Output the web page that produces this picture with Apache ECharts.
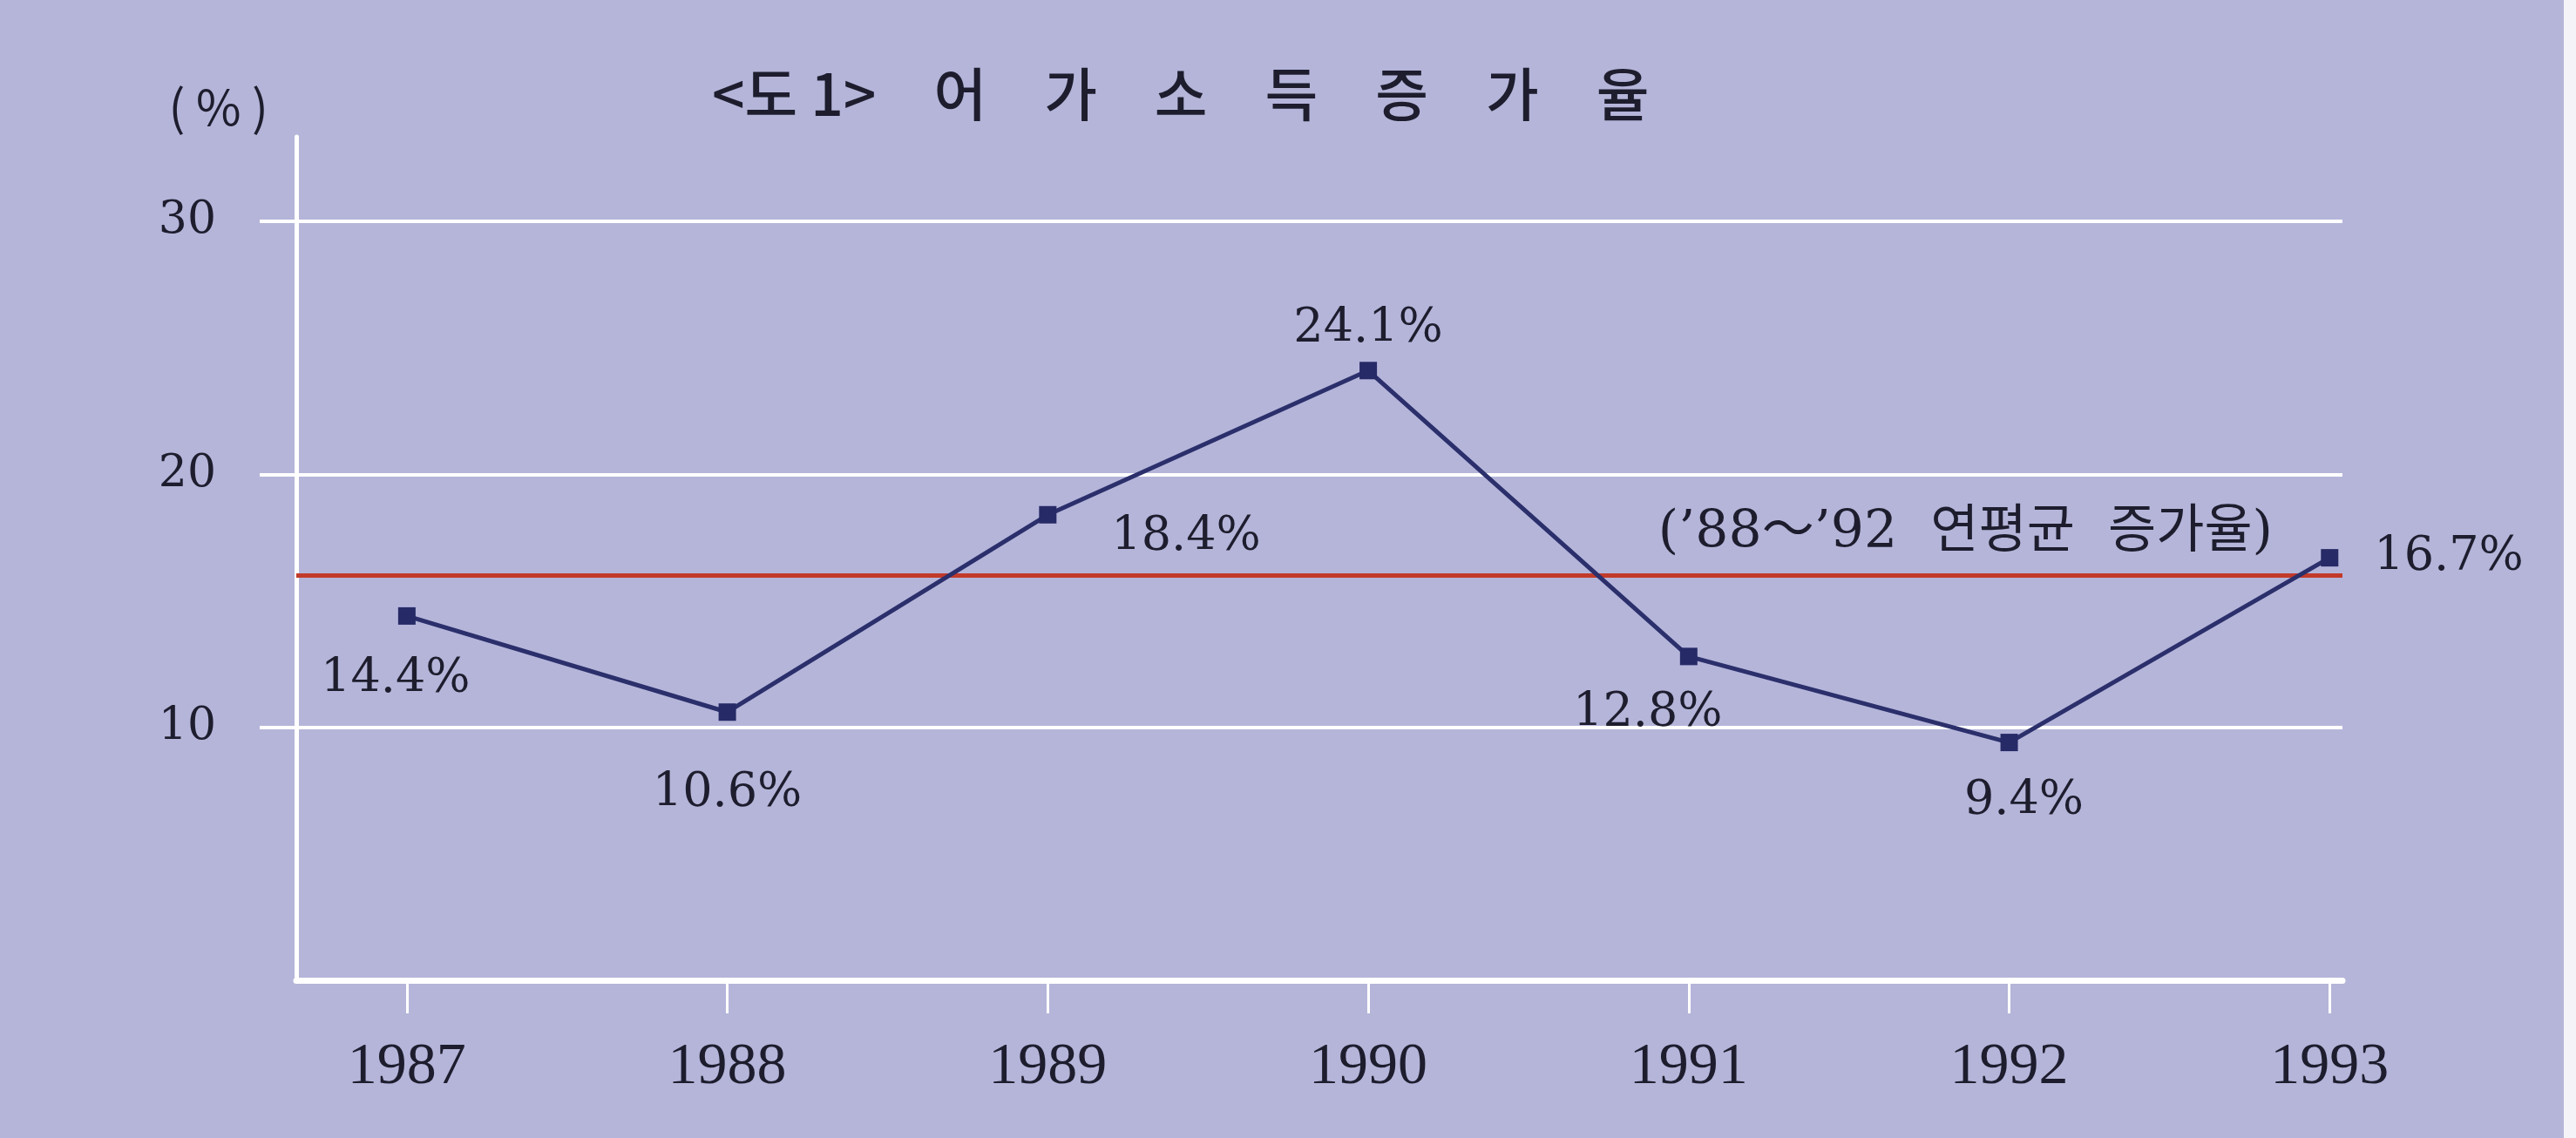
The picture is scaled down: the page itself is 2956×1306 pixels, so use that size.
<!DOCTYPE html>
<html>
<head>
<meta charset="utf-8">
<script src="https://cdn.jsdelivr.net/npm/echarts@6/dist/echarts.min.js"></script>
<style>
  html, body { margin: 0; padding: 0; background: #b5b5da; }
  #chart { width: 2956px; height: 1306px; }
</style>
</head>
<body>
<div id="chart"></div>
<script>
// 어가소득 증가율 (%)
const years = ['1987', '1988', '1989', '1990', '1991', '1992', '1993'];
const growthRate = [14.4, 10.6, 18.4, 24.1, 12.8, 9.4, 16.7];
const avgRate = 16.0; // '88~'92 연평균 증가율
const yTicks = [10, 20, 30];
const titleText = '<도 1>　어　가　소　득　증　가　율';
const avgText = '(’88～’92  연평균  증가율)';

// where each value label sits around its point
const labelPlace = [
  { position: 'bottom', distance: 36, offset: [-13, 0] },
  { position: 'bottom', distance: 57, offset: [0, 0] },
  { position: 'right', distance: 63, offset: [0, 26] },
  { position: 'top', distance: 10, offset: [0, 0] },
  { position: 'bottom', distance: 29, offset: [-47, 0] },
  { position: 'bottom', distance: 31, offset: [17, 0] },
  { position: 'right', distance: 41, offset: [0, 0] }
];

const serif = "'DejaVu Serif', 'Noto Sans CJK KR', serif";
const ink = '#1d1d2e';

const chart = echarts.init(document.getElementById('chart'));

const option = {
  backgroundColor: '#b5b5da',
  animation: false,
  title: {
    text: titleText,
    left: 812,
    top: 70,
    textStyle: {
      fontFamily: "'Noto Sans CJK KR', sans-serif",
      fontSize: 66,
      fontWeight: 500,
      color: ink
    }
  },
  grid: { left: 340, right: 268, top: 157, bottom: 181 },
  xAxis: {
    type: 'value',
    min: 1986.655,
    max: 1993.04,
    axisLine: { show: true, lineStyle: { color: '#ffffff', width: 7 } },
    axisTick: {
      show: true,
      length: 38,
      customValues: years.map(Number),
      lineStyle: { color: '#ffffff', width: 3 }
    },
    axisLabel: {
      customValues: years.map(Number),
      formatter: v => String(v),
      margin: 66,
      fontFamily: "'Liberation Serif', serif",
      fontSize: 68,
      color: ink
    },
    splitLine: { show: false }
  },
  yAxis: {
    type: 'value',
    min: 0,
    max: 33.34,
    interval: 10,
    name: '( % )',
    nameLocation: 'end',
    nameGap: 6,
    nameTextStyle: {
      align: 'right',
      verticalAlign: 'bottom',
      padding: [0, 32, 0, 0],
      fontFamily: "'Noto Sans CJK KR', sans-serif",
      fontSize: 56,
      color: ink
    },
    axisLine: { show: true, lineStyle: { color: '#ffffff', width: 5 } },
    axisTick: {
      show: true,
      length: 42,
      customValues: yTicks,
      lineStyle: { color: '#ffffff', width: 4 }
    },
    axisLabel: {
      customValues: yTicks,
      margin: 92,
      fontFamily: serif,
      fontSize: 52,
      color: ink
    },
    splitLine: {
      show: true,
      lineStyle: { color: '#ffffff', width: 4 }
    }
  },
  series: [{
    type: 'line',
    data: years.map((y, i) => ({
      value: [Number(y), growthRate[i]],
      label: labelPlace[i]
    })),
    symbol: 'rect',
    symbolSize: 20,
    lineStyle: { color: '#2b2f6b', width: 5 },
    itemStyle: { color: '#262a66' },
    label: {
      show: true,
      formatter: p => p.value[1].toFixed(1) + '%',
      fontFamily: serif,
      fontSize: 54,
      color: ink
    },
    z: 5,
    markLine: {
      silent: true,
      symbol: ['none', 'none'],
      lineStyle: { color: '#c23a2a', width: 5, type: 'solid' },
      label: {
        show: true,
        position: 'insideEndTop',
        distance: 18,
        padding: [0, 62, 0, 0],
        formatter: avgText,
        fontFamily: serif,
        fontSize: 60,
        color: ink
      },
      data: [{ yAxis: avgRate }],
      z: 3
    }
  }],
  graphic: [{
    type: 'rect',
    right: 0,
    top: 0,
    shape: { width: 14, height: 1306 },
    style: { fill: '#f4f4f8' }
  }]
};

chart.setOption(option);
</script>
</body>
</html>
